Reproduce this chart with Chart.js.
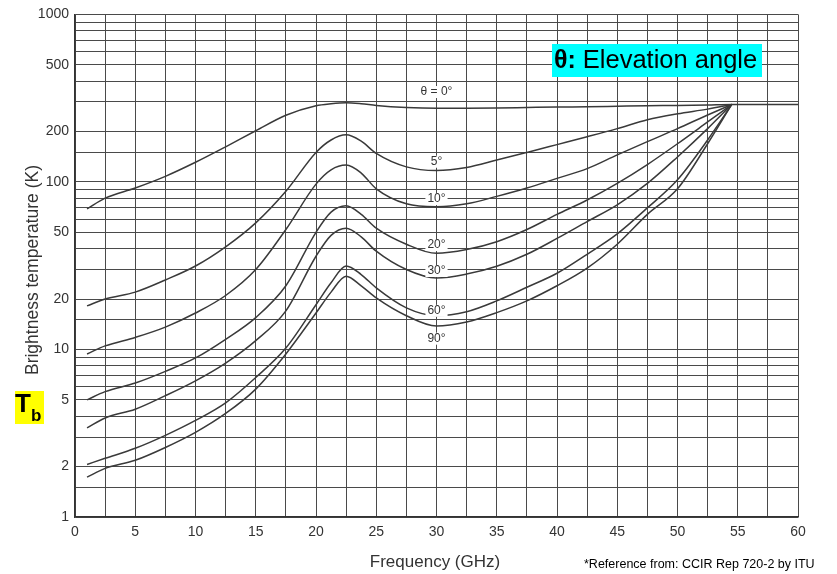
<!DOCTYPE html>
<html>
<head>
<meta charset="utf-8">
<script src="https://cdn.jsdelivr.net/npm/chart.js@4"></script>
<style>
  body { margin: 0; background: #fff; }
  #wrap { width: 837px; height: 574px; }
</style>
</head>
<body>
<div id="wrap"><canvas id="myChart" width="837" height="574"></canvas></div>
<script>
// frequencies (GHz)
const freqs = [1, 2.5, 5, 7.5, 10, 12.5, 15, 17.5, 20, 21.25, 22.5, 23.75, 25, 27.5, 30, 32.5, 35, 37.5, 40, 42.5, 45, 47.5, 50, 52.5, 54.5];
const freqs0 = [1, 2.5, 5, 7.5, 10, 12.5, 15, 17.5, 20, 21.25, 22.5, 23.75, 25, 27.5, 30, 32.5, 35, 37.5, 40, 42.5, 45, 47.5, 50, 52.5, 54.5, 57.5, 60];

// brightness temperature (K) per elevation angle
const tb0  = [69, 80, 92, 108, 131, 162, 202, 250, 285, 293, 297, 293, 286, 278, 275, 275, 276, 278, 280, 281, 283, 285, 286, 288, 290, 290, 290];
const tb5  = [18.2, 20, 22, 26, 31.5, 41, 57, 88, 150, 178, 191, 175, 148, 123, 117, 122, 135, 150, 167, 186, 208, 235, 255, 272, 290];
const tb10 = [9.4, 10.5, 11.8, 13.6, 16.5, 21, 30, 52, 97, 118, 126, 113, 91, 74, 71, 74, 82, 92, 105, 120, 145, 174, 208, 251, 290];
const tb20 = [5.0, 5.6, 6.3, 7.4, 8.9, 11.5, 15.5, 24, 50, 66, 72, 64, 53, 42.5, 37.5, 39.5, 44, 52, 64, 78, 98, 127, 169, 228, 290];
const tb30 = [3.4, 3.9, 4.4, 5.3, 6.5, 8.3, 11.3, 17, 36, 48, 53, 47, 38.6, 30, 26.7, 28.2, 31.4, 37, 46, 58, 73, 98, 141, 208, 290];
const tb60 = [2.06, 2.24, 2.57, 3.07, 3.77, 4.8, 6.8, 10.2, 18.5, 25, 31.5, 28, 23.3, 17.7, 15.9, 16.8, 19.5, 23.5, 28.5, 37, 49, 70, 103, 178, 290];
const tb90 = [1.73, 1.95, 2.18, 2.6, 3.2, 4.15, 5.8, 9.4, 16.5, 22, 27.4, 24, 20.3, 15.9, 13.8, 14.6, 16.6, 19.5, 24, 30.6, 42.5, 64, 91, 169, 290];

// y grid / tick labels
const yGrid = [1, 1.5, 2, 3, 4, 5, 6, 7, 8, 9, 10, 15, 20, 30, 40, 50, 60, 70, 80, 90, 100, 150, 200, 300, 400, 500, 600, 700, 800, 900, 1000];
const yLabels = [1, 2, 5, 10, 20, 50, 100, 200, 500, 1000];

// curve labels
const curveNames = ['\u03b8 = 0\u00b0', '5\u00b0', '10\u00b0', '20\u00b0', '30\u00b0', '60\u00b0', '90\u00b0'];
const curveLabelX = [30, 30, 30, 30, 30, 30, 30];
const curveLabelY = [344, 132, 79, 42, 29.4, 17, 11.6];

function series(xs, ys) {
    return ys.map((v, i) => ({ x: xs[i], y: v }));
}

const lineStyle = {
    borderColor: '#3a3a3a',
    borderWidth: 1.5,
    pointRadius: 0,
    cubicInterpolationMode: 'monotone',
    fill: false
};

const textPlugin = {
    id: 'texts',
    afterDraw(chart) {
        const c = chart.ctx;
        const xs = chart.scales.x, ys = chart.scales.y;
        c.save();
        // curve labels
        c.font = '12px Arial, "Liberation Sans", sans-serif';
        c.textAlign = 'center';
        c.textBaseline = 'middle';
        curveNames.forEach((t, i) => {
            const px = xs.getPixelForValue(curveLabelX[i]);
            const py = ys.getPixelForValue(curveLabelY[i]);
            const w = c.measureText(t).width;
            c.fillStyle = '#fff';
            c.fillRect(px - w / 2 - 2, py - 6, w + 4, 12);
            c.fillStyle = '#333';
            c.fillText(t, px, py);
        });

        // axis titles
        c.fillStyle = '#333';
        c.font = '17px Arial, "Liberation Sans", sans-serif';
        c.fillText('Frequency (GHz)', 435, 562);
        c.save();
        c.translate(33, 270);
        c.rotate(-Math.PI / 2);
        c.font = '17.5px Arial, "Liberation Sans", sans-serif';
        c.fillText('Brightness temperature (K)', 0, 0);
        c.restore();

        // elevation angle box
        c.fillStyle = '#00ffff';
        c.fillRect(552, 44, 210, 33);
        c.fillStyle = '#000';
        c.textAlign = 'left';
        c.font = 'bold 25px Arial, "Liberation Sans", sans-serif';
        c.fillText('\u03b8:', 554, 61);
        const bw = c.measureText('\u03b8: ').width;
        c.font = '25.5px Arial, "Liberation Sans", sans-serif';
        c.fillText('Elevation angle', 554 + bw, 61);

        // Tb box
        c.fillStyle = '#ffff00';
        c.fillRect(15, 391, 29, 33);
        c.fillStyle = '#000';
        c.font = 'bold 26px Arial, "Liberation Sans", sans-serif';
        c.fillText('T', 15, 405);
        c.font = 'bold 17px Arial, "Liberation Sans", sans-serif';
        c.fillText('b', 31, 416);

        // reference note
        c.font = '12.5px Arial, "Liberation Sans", sans-serif';
        c.fillText('*Reference from: CCIR Rep 720-2 by ITU', 584, 565);
        c.restore();
    }
};

const ctx = document.getElementById('myChart').getContext('2d');
const myChart = new Chart(ctx, {
    type: 'line',
    data: {
        datasets: [
            Object.assign({ label: '0', data: series(freqs0, tb0) }, lineStyle),
            Object.assign({ label: '5', data: series(freqs, tb5) }, lineStyle),
            Object.assign({ label: '10', data: series(freqs, tb10) }, lineStyle),
            Object.assign({ label: '20', data: series(freqs, tb20) }, lineStyle),
            Object.assign({ label: '30', data: series(freqs, tb30) }, lineStyle),
            Object.assign({ label: '60', data: series(freqs, tb60) }, lineStyle),
            Object.assign({ label: '90', data: series(freqs, tb90) }, lineStyle)
        ]
    },
    options: {
        responsive: false,
        animation: false,
        layout: { padding: { top: 10, right: 39, left: 0, bottom: 0 } },
        plugins: { legend: { display: false }, tooltip: { enabled: false } },
        scales: {
            x: {
                type: 'linear',
                min: 0,
                max: 60,
                afterFit(scale) { scale.height = 57; },
                border: { color: '#333', width: 1.5 },
                grid: { color: '#4a4a4a', lineWidth: 1, drawTicks: false },
                ticks: {
                    stepSize: 2.5,
                    autoSkip: false,
                    maxRotation: 0,
                    padding: 7,
                    color: '#333',
                    font: { family: 'Arial, "Liberation Sans", sans-serif', size: 14 },
                    callback: v => (v % 5 === 0 ? String(v) : '')
                }
            },
            y: {
                type: 'logarithmic',
                min: 1,
                max: 1000,
                afterFit(scale) { scale.width = 75; },
                afterBuildTicks(scale) { scale.ticks = yGrid.map(v => ({ value: v })); },
                border: { color: '#333', width: 1.5 },
                grid: { color: '#4a4a4a', lineWidth: 1, drawTicks: false },
                ticks: {
                    autoSkip: false,
                    padding: 6,
                    color: '#333',
                    font: { family: 'Arial, "Liberation Sans", sans-serif', size: 14 },
                    callback: v => (yLabels.includes(v) ? String(v) : '')
                }
            }
        }
    },
    plugins: [textPlugin]
});
</script>
</body>
</html>
